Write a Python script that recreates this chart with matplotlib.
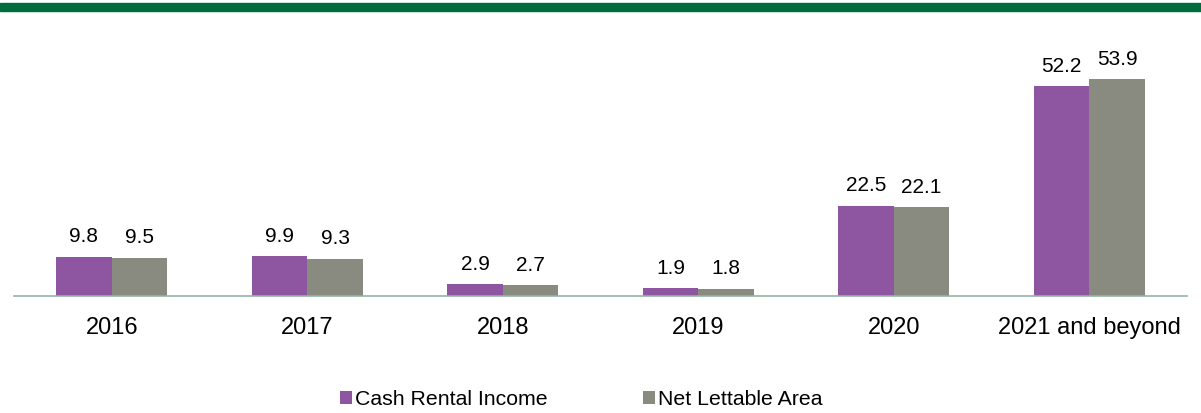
import matplotlib
matplotlib.use("Agg")
import matplotlib.pyplot as plt
import numpy as np

plt.rcParams['font.family'] = ['Liberation Sans', 'DejaVu Sans']

years = ["2016", "2017", "2018", "2019", "2020", "2021 and beyond"]
cash_rental = [9.8, 9.9, 2.9, 1.9, 22.5, 52.2]
net_lettable = [9.5, 9.3, 2.7, 1.8, 22.1, 53.9]

purple = "#8E55A0"
grey = "#898A80"

W, H = 1201, 413
fig = plt.figure(figsize=(W / 100, H / 100), dpi=100)

# green band across the top
fig.patches.append(plt.Rectangle((0, 1 - 10.5 / H), 1, 7.5 / H, transform=fig.transFigure,
                                 color="#006B3C", zorder=5))

ax = fig.add_axes([14 / W, 117 / H, 1173 / W, 281.4 / H])

x = np.arange(len(years))
w = 0.284
b1 = ax.bar(x - w / 2, cash_rental, w, color=purple, label="Cash Rental Income")
b2 = ax.bar(x + w / 2, net_lettable, w, color=grey, label="Net Lettable Area")

for bars, vals in ((b1, cash_rental), (b2, net_lettable)):
    for r, v in zip(bars, vals):
        ax.annotate(f"{v:.1f}", (r.get_x() + r.get_width() / 2, v), xytext=(0, 10.5),
                    textcoords="offset points", ha="center", va="baseline", fontsize=15)

ax.set_xlim(-0.5, len(years) - 0.5)
ax.set_ylim(0, 70)
ax.set_xticks(x)
ax.set_xticklabels(years, fontsize=17)
ax.tick_params(axis="x", length=0, pad=15)
ax.set_yticks([])
for s in ["top", "left", "right"]:
    ax.spines[s].set_visible(False)
ax.spines["bottom"].set_color("#93B3A3")
ax.spines["bottom"].set_linewidth(1.2)

fig.legend(handles=[b1, b2], loc="center", bbox_to_anchor=(0.484, 0.032), ncol=2,
           frameon=False, fontsize=15.3, handlelength=0.55, handleheight=0.55,
           handletextpad=0.15, columnspacing=4.5)

fig.savefig("out.png", dpi=100)
